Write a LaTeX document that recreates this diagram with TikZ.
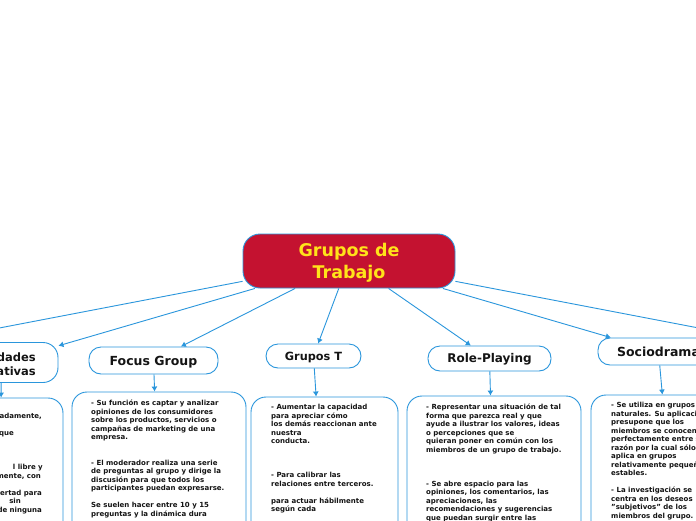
\documentclass[tikz,border=0pt]{standalone}
\usepackage{fontspec}
\setmainfont{DejaVu Sans}
\usetikzlibrary{arrows.meta,calc}
\definecolor{lineblue}{HTML}{2A96DC}
\definecolor{rootred}{HTML}{C41230}
\definecolor{rootyellow}{HTML}{FFE31A}
\definecolor{txt}{HTML}{141414}
\begin{document}
\begin{tikzpicture}[x=1pt,y=-1pt,
  root/.style={draw=lineblue, line width=0.9pt, fill=rootred, rounded corners=17pt,
    minimum width=212pt, minimum height=54pt, inner sep=0pt, align=center,
    text=rootyellow, font=\bfseries\fontsize{17.5}{22}\selectfont},
  topic/.style={draw=lineblue, line width=0.9pt, fill=white, rounded corners=12pt,
    inner sep=0pt, text=txt, text depth=0pt},
  bodybox/.style={draw=lineblue, line width=0.9pt, fill=white, rounded corners=15pt, inner sep=0pt},
  bodytext/.style={anchor=north west, inner sep=0pt, align=left, text=txt,
    font=\bfseries\fontsize{7}{8.5}\selectfont},
  link/.style={draw=lineblue, line width=0.9pt, -{Latex[length=5pt,width=6pt]}},
]
\useasboundingbox (0,0) rectangle (696,520);
\clip (0,0) rectangle (696,520);
\fill[white] (0,0) rectangle (696,520);

% root
\node[root] (c) at (349,261) {\rule{0pt}{17pt}Grupos de\\Trabajo};

% topics
\node[topic, minimum width=129pt, minimum height=27pt,
  font=\bfseries\fontsize{12.5}{15}\selectfont, text height=9pt] (fg) at (153.5,360.5) {Focus Group};
\node[topic, minimum width=95pt, minimum height=24pt,
  font=\bfseries\fontsize{11.3}{14}\selectfont, text height=8.1pt] (gt) at (313.5,356) {Grupos T};
\node[topic, minimum width=123pt, minimum height=25pt,
  font=\bfseries\fontsize{12}{15}\selectfont, text height=8.6pt] (rp) at (489.5,358.5) {Role-Playing};
\node[topic, minimum width=121pt, minimum height=27pt,
  font=\bfseries\fontsize{12.5}{15}\selectfont, text height=9pt] (sd) at (658.5,351.5) {Sociodrama};
\node[topic, minimum width=114pt, minimum height=40pt, rounded corners=15pt] (ld) at (1,362.5) {};
\node[anchor=base east, inner sep=0pt, text=txt, font=\bfseries\fontsize{11.5}{14}\selectfont] (ldt1) at (36,361.5) {dades};
\node[anchor=base east, inner sep=0pt, text=txt, font=\bfseries\fontsize{11.5}{14}\selectfont] (ldt2) at (36,375.5) {ativas};

\coordinate (farL) at (-178,362);
\coordinate (farR) at (876,362);

% body boxes
\node[bodybox, minimum width=123pt, minimum height=252pt] (ldb) at (1.5,524) {};
\node[bodybox, minimum width=174pt, minimum height=248pt] (fgb) at (159,516) {};
\node[bodybox, minimum width=147pt, minimum height=263pt] (gtb) at (324.5,528.5) {};
\node[bodybox, minimum width=174pt, minimum height=260pt] (rpb) at (494,526) {};
\node[bodybox, minimum width=174pt, minimum height=356pt] (sdb) at (678,573) {};

% body texts
\node[bodytext, anchor=north east, align=right] (ldbt) at (43,412.1)
{\rule{0pt}{6.5pt}adamente,\rule{1pt}{0pt}\\[8.5pt]que\rule{29pt}{0pt}\\[25.5pt]l libre y\\mente, con\rule{2pt}{0pt}\\[8.5pt]bertad para\rule{1pt}{0pt}\\sin\rule{22pt}{0pt}\\de ninguna\rule{1pt}{0pt}};

\node[bodytext] (fgbt) at (91,399.1)
{\rule{0pt}{6.5pt}- Su función es captar y analizar\\opiniones de los consumidores\\sobre los productos, servicios o\\campañas de marketing de una\\empresa.\\[17pt]- El moderador realiza una serie\\de preguntas al grupo y dirige la\\discusión para que todos los\\participantes puedan expresarse.\\[8.5pt]Se suelen hacer entre 10 y 15\\preguntas y la dinámica dura};

\node[bodytext] (gtbt) at (271,403.1)
{\rule{0pt}{6.5pt}- Aumentar la capacidad\\para apreciar cómo\\los demás reaccionan ante\\nuestra\\conducta.\\[25.5pt]- Para calibrar las\\relaciones entre terceros.\\[8.5pt]para actuar hábilmente\\según cada};

\node[bodytext] (rpbt) at (426,403.1)
{\rule{0pt}{6.5pt}- Representar una situación de tal\\forma que parezca real y que\\ayude a ilustrar los valores, ideas\\o percepciones que se\\quieran poner en común con los\\miembros de un grupo de trabajo.\\[25.5pt]- Se abre espacio para las\\opiniones, los comentarios, las\\apreciaciones, las\\recomendaciones y sugerencias\\que puedan surgir entre las};

\node[bodytext] (sdbt) at (611,401.1)
{\rule{0pt}{6.5pt}- Se utiliza en grupos\\naturales. Su aplicación\\presupone que los\\miembros se conocen\\perfectamente entre sí,\\razón por la cual sólo se\\aplica en grupos\\relativamente pequeños y\\estables.\\[8.5pt]- La investigación se\\centra en los deseos\\"subjetivos" de los\\miembros del grupo.};

% connectors
\draw[link] (c) -- (farL);
\draw[link] (c) -- (ld);
\draw[link] (c) -- (fg);
\draw[link] (c) -- (gt);
\draw[link] (c) -- (rp);
\draw[link] (c) -- (sd);
\draw[link] (c) -- (farR);
\draw[link] (ld) -- (ldb);
\draw[link] (fg) -- (fgb);
\draw[link] (gt) -- (gtb);
\draw[link] (rp) -- (rpb);
\draw[link] (sd) -- (sdb);
\end{tikzpicture}
\end{document}
